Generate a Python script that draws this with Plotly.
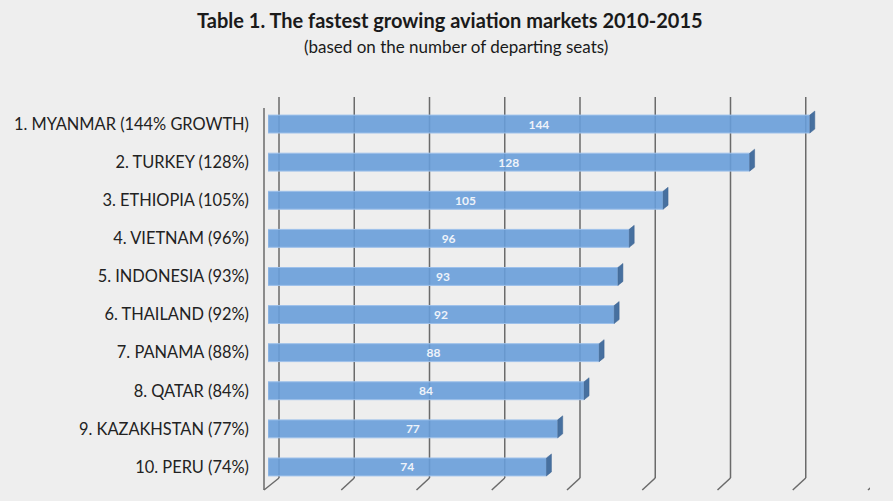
import plotly.graph_objects as go

categories = ["1. MYANMAR (144% GROWTH)", "2. TURKEY (128%)", "3. ETHIOPIA (105%)",
              "4. VIETNAM (96%)", "5. INDONESIA (93%)", "6. THAILAND (92%)",
              "7. PANAMA (88%)", "8. QATAR (84%)", "9. KAZAKHSTAN (77%)", "10. PERU (74%)"]
values = [144, 128, 105, 96, 93, 92, 88, 84, 77, 74]
grid_ticks = [0, 20, 40, 60, 80, 100, 120, 140, 160]

FONT = "Lato"
DX = 11  # 3D depth offset in pixels
W, H, L, R, T, B = 893, 501, 268, 23, 105, 15
PW, PH = W - L - R, H - T - B


def py(px):
    """pixel row from top -> paper y"""
    return (H - B - px) / PH


def pxp(px):
    """pixel column from left -> paper x"""
    return (px - L) / PW


fig = go.Figure()
fig.add_trace(go.Bar(
    x=values, y=categories, orientation="h", width=0.47,
    marker=dict(color="rgba(104,157,217,0.9)", line=dict(color="#9dc0ea", width=1)),
    text=[str(v) for v in values], textposition="inside", insidetextanchor="middle",
    textangle=0, constraintext="none",
    textfont=dict(family=FONT, size=12, color="#eef3fa", weight="bold"),
    cliponaxis=False, hoverinfo="skip",
))

shapes = []
# back-wall gridlines and floor diagonals
for v in grid_ticks:
    shapes.append(dict(type="line", layer="below", xref="x", yref="paper",
                       xsizemode="pixel", xanchor=v, x0=DX, x1=DX,
                       y0=py(478), y1=py(97),
                       line=dict(color="#6a6a6a", width=1.5)))
    if v > 0:
        shapes.append(dict(type="line", layer="below", xref="x", yref="paper",
                           xsizemode="pixel", xanchor=v, x0=-2, x1=DX,
                           y0=py(490), y1=py(478),
                           line=dict(color="#6a6a6a", width=1.5)))
# left wall front edge and its floor diagonal (paper refs so they are not clipped)
shapes.append(dict(type="line", layer="below", xref="paper", yref="paper",
                   x0=pxp(264), x1=pxp(264), y0=py(490), y1=py(108),
                   line=dict(color="#6a6a6a", width=1.5)))
shapes.append(dict(type="line", layer="below", xref="paper", yref="paper",
                   x0=pxp(264), x1=pxp(L + DX), y0=py(490), y1=py(478),
                   line=dict(color="#6a6a6a", width=1.5)))
# 3D top faces and end caps of bars
for c, v in zip(categories, values):
    shapes.append(dict(type="path", layer="above", xref="x", yref="y",
                       xsizemode="pixel", ysizemode="pixel", xanchor=v, yanchor=c,
                       path="M0,9 L5,13 L5,-5 L0,-9 Z",
                       fillcolor="#47709f", line=dict(color="#3d6390", width=0.5)))

annotations = [
    dict(text="<b>Table 1. The fastest growing aviation markets 2010-2015</b>",
         xref="paper", yref="paper", x=pxp(450), y=py(20),
         xanchor="center", yanchor="middle", showarrow=False,
         font=dict(family=FONT, size=20, color="#1a1a1a")),
    dict(text="(based on the number of departing seats)",
         xref="paper", yref="paper", x=pxp(456), y=py(47),
         xanchor="center", yanchor="middle", showarrow=False,
         font=dict(family=FONT, size=17, color="#1a1a1a")),
]

fig.update_layout(
    width=W, height=H,
    margin=dict(l=L, r=R, t=T, b=B),
    paper_bgcolor="#eeeeee", plot_bgcolor="rgba(0,0,0,0)",
    showlegend=False, shapes=shapes, annotations=annotations,
    xaxis=dict(range=[0, 160], showgrid=False, zeroline=False, showticklabels=False,
               showline=False, fixedrange=True),
    yaxis=dict(categoryorder="array", categoryarray=categories, autorange="reversed",
               showgrid=False, zeroline=False, showline=False, ticks="",
               ticklabelstandoff=18,
               tickfont=dict(family=FONT, size=16.4, color="#222222")),
)

fig.write_html("out.html")
